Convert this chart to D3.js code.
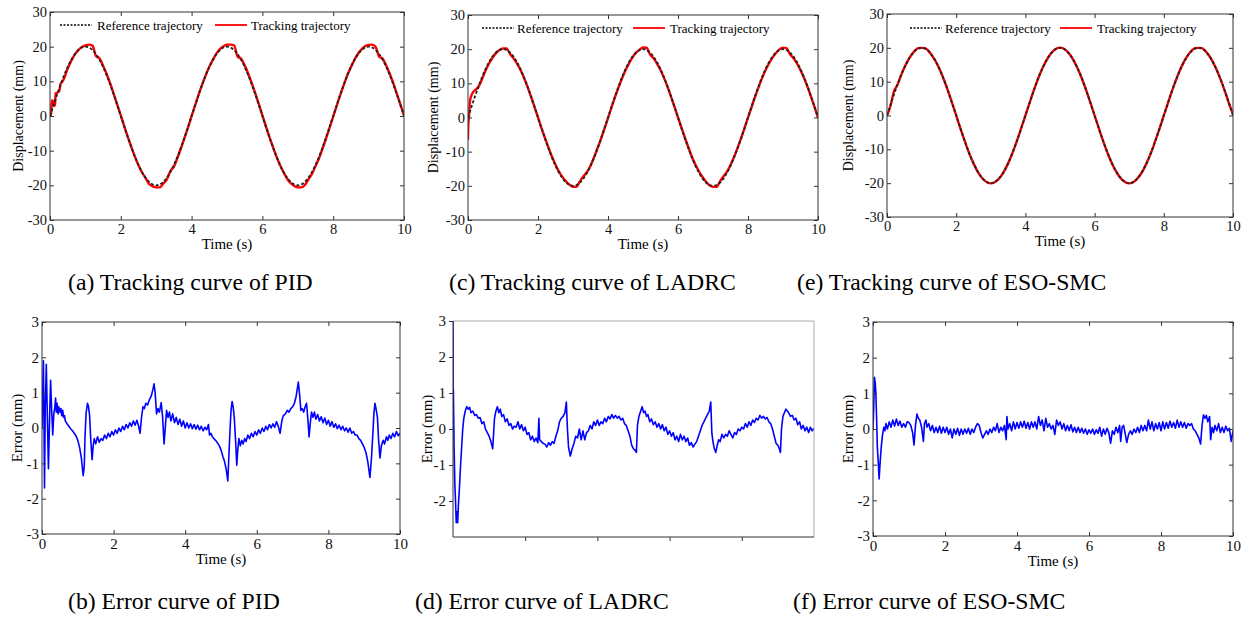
<!DOCTYPE html>
<html>
<head>
<meta charset="utf-8">
<script src="https://cdn.jsdelivr.net/npm/d3@7"></script>
<style>
  body { margin: 0; background: #fff; }
  svg { display: block; font-family: "Liberation Serif", "Times New Roman", serif; }
</style>
</head>
<body>
<svg id="chart" width="1249" height="619"></svg>
<script>
// ---- data ----
const timeTicks = [0, 2, 4, 6, 8, 10];
const dispTicks = [-30, -20, -10, 0, 10, 20, 30];
const errTicks = [-3, -2, -1, 0, 1, 2, 3];

// 0.1 s sampling grid used by the trajectory arrays
const trackTime = d3.range(0, 101).map(i => i / 10);

const refTrajectory = [
  0, 3.13, 6.18, 9.08, 11.76, 14.14, 16.18, 17.82, 19.02, 19.75, 20, 19.75, 19.02, 17.82, 16.18, 14.14, 11.76, 9.08, 6.18, 3.13,
  0, -3.13, -6.18, -9.08, -11.76, -14.14, -16.18, -17.82, -19.02, -19.75, -20, -19.75, -19.02, -17.82, -16.18, -14.14, -11.76, -9.08, -6.18, -3.13,
  0, 3.13, 6.18, 9.08, 11.76, 14.14, 16.18, 17.82, 19.02, 19.75, 20, 19.75, 19.02, 17.82, 16.18, 14.14, 11.76, 9.08, 6.18, 3.13,
  0, -3.13, -6.18, -9.08, -11.76, -14.14, -16.18, -17.82, -19.02, -19.75, -20, -19.75, -19.02, -17.82, -16.18, -14.14, -11.76, -9.08, -6.18, -3.13,
  0, 3.13, 6.18, 9.08, 11.76, 14.14, 16.18, 17.82, 19.02, 19.75, 20, 19.75, 19.02, 17.82, 16.18, 14.14, 11.76, 9.08, 6.18, 3.13,
  0
];

const pidTrack = [
  0, 3.0, 6.6, 9.2, 10.9, 13.7, 15.9, 17.7, 19.0, 19.9, 20.4, 20.6, 20.3, 17.3, 16.6, 14.5, 12.1, 9.4, 6.4, 3.3,
  0.15, -3.0, -6.1, -9.0, -11.8, -14.2, -16.3, -17.9, -19.6, -20.3, -20.6, -20.6, -19.5, -18.3, -15.9, -14.6, -12.1, -9.3, -6.3, -3.25,
  -0.05, 3.1, 6.2, 9.1, 11.8, 14.2, 16.2, 18.0, 19.3, 20.1, 20.6, 20.6, 20.4, 17.1, 16.5, 14.6, 12.2, 9.4, 6.5, 3.4,
  0.2, -3.0, -6.1, -9.0, -11.8, -14.2, -16.3, -18.1, -19.4, -20.2, -20.6, -20.6, -19.9, -18.3, -16.7, -14.5, -12.2, -9.4, -6.4, -3.3,
  -0.2, 3.0, 6.1, 9.0, 11.8, 14.1, 16.2, 17.95, 19.2, 20.1, 20.5, 20.6, 19.9, 17.1, 16.5, 14.5, 12.1, 9.4, 6.4, 3.3,
  0.15
];
const pidTrackStart = [[0, 0], [0.03, 0.4], [0.05, 4.5], [0.09, 4.4], [0.11, 2.9], [0.14, 3.2], [0.16, 6.5], [0.2, 6.7], [0.26, 7.1], [0.3, 9.3], [0.35, 9.9], [0.4, 10.9]];

const ladrcTrack = [
  -6.5, 6.5, 8.0, 9.0, 11.2, 13.7, 15.8, 17.5, 18.85, 19.75, 20.2, 20.2, 18.6, 17.3, 15.8, 13.9, 11.6, 9.0, 6.1, 3.1,
  0.0, -3.1, -6.0, -8.8, -11.5, -13.8, -15.8, -17.45, -18.7, -19.65, -20.3, -20.3, -18.6, -17.2, -15.95, -14.1, -11.7, -9.0, -6.25, -3.25,
  -0.2, 2.95, 5.95, 8.75, 11.4, 13.8, 15.85, 17.6, 18.95, 19.8, 20.5, 20.4, 18.5, 17.3, 15.8, 13.9, 11.6, 9.0, 6.1, 3.1,
  0.05, -3.0, -6.0, -8.85, -11.55, -13.85, -15.8, -17.4, -18.8, -19.85, -20.3, -20.3, -18.7, -17.2, -15.85, -13.9, -11.55, -8.95, -6.1, -3.1,
  -0.05, 3.0, 6.0, 8.8, 11.45, 13.8, 15.8, 17.5, 18.9, 19.95, 20.45, 20.3, 18.5, 17.35, 15.8, 13.85, 11.6, 9.0, 6.1, 3.1,
  0.0
];
const ladrcTrackStart = [[0, -6.5], [0.01, -2], [0.03, 0.5], [0.06, 5.0], [0.1, 6.5], [0.15, 7.5], [0.2, 8.0], [0.3, 9.0]];

const esoTrack = [
  0, 2.8, 7.1, 9.0, 11.7, 14.1, 16.15, 17.8, 19.1, 19.9, 20, 19.9, 19.1, 17.7, 16.1, 14.1, 11.75, 9.08, 6.18, 3.13,
  0, -3.13, -6.2, -9.1, -11.8, -14.15, -16.2, -17.85, -19.05, -19.8, -20.05, -19.8, -19.05, -17.85, -16.2, -14.15, -11.75, -9.05, -6.15, -3.1,
  0, 3.1, 6.15, 9.05, 11.75, 14.1, 16.15, 17.8, 19.0, 19.8, 20.05, 19.8, 19.05, 17.8, 16.15, 14.1, 11.75, 9.1, 6.2, 3.15,
  0, -3.1, -6.15, -9.05, -11.75, -14.1, -16.15, -17.8, -19.05, -19.8, -20.05, -19.8, -19.0, -17.8, -16.2, -14.15, -11.8, -9.1, -6.2, -3.15,
  0, 3.1, 6.15, 9.05, 11.75, 14.15, 16.2, 17.85, 19.1, 19.9, 20, 19.9, 19.1, 17.8, 16.15, 14.1, 11.7, 9.05, 6.15, 3.1,
  0.5
];
const esoTrackStart = [[0, 0], [0.05, 1.2], [0.1, 2.8], [0.2, 7.1]];

// tracking error [time (s), error (mm)]
const pidError = [
  [0, 0], [0.02, 1.0], [0.04, 1.9], [0.055, 0.2], [0.07, -1.7], [0.09, 0.5], [0.12, 1.8], [0.15, 0.3], [0.18, -1.15], [0.21, 0.2],
  [0.24, 1.35], [0.27, 0.5], [0.3, -0.2], [0.33, 0.4], [0.36, 0.6], [0.38, 0.85], [0.4, 0.45], [0.42, 0.7], [0.45, 0.4], [0.47, 0.6],
  [0.5, 0.45], [0.53, 0.55], [0.55, 0.35], [0.58, 0.5], [0.6, 0.3], [0.63, 0.35], [0.65, 0.2], [0.7, 0.12], [0.75, 0.05], [0.8, -0.02],
  [0.85, -0.08], [0.9, -0.15], [0.95, -0.22], [1.0, -0.35], [1.05, -0.55], [1.1, -0.85], [1.15, -1.35], [1.18, -1.1], [1.2, -0.3], [1.23, 0.4],
  [1.27, 0.7], [1.3, 0.6], [1.33, 0.35], [1.36, -0.3], [1.4, -0.9], [1.43, -0.5], [1.46, -0.3], [1.5, -0.45], [1.55, -0.25], [1.6, -0.4],
  [1.65, -0.3], [1.7, -0.35], [1.75, -0.2], [1.8, -0.3], [1.85, -0.15], [1.9, -0.25], [1.95, -0.1], [2.0, -0.2], [2.05, -0.05], [2.1, -0.15],
  [2.15, 0.0], [2.2, -0.1], [2.25, 0.05], [2.3, -0.05], [2.35, 0.1], [2.4, 0.0], [2.45, 0.15], [2.5, 0.05], [2.55, 0.2], [2.6, 0.08],
  [2.65, 0.22], [2.7, 0.05], [2.74, -0.15], [2.78, 0.3], [2.82, 0.6], [2.86, 0.55], [2.9, 0.7], [2.95, 0.65], [3.0, 0.8], [3.05, 0.9],
  [3.1, 1.1], [3.13, 1.25], [3.16, 1.0], [3.2, 0.4], [3.24, 0.55], [3.28, 0.45], [3.33, 0.72], [3.37, 0.3], [3.41, -0.45], [3.45, 0.1],
  [3.48, 0.5], [3.52, 0.3], [3.56, 0.45], [3.6, 0.2], [3.65, 0.4], [3.7, 0.15], [3.75, 0.3], [3.8, 0.1], [3.85, 0.25], [3.9, 0.05],
  [3.95, 0.2], [4.0, 0.0], [4.05, 0.15], [4.1, 0.0], [4.15, 0.12], [4.2, -0.02], [4.25, 0.1], [4.3, -0.03], [4.35, 0.08], [4.4, -0.05],
  [4.45, 0.05], [4.5, -0.08], [4.55, 0.02], [4.6, -0.05], [4.65, 0.1], [4.68, -0.2], [4.72, -0.15], [4.76, -0.25], [4.8, -0.3], [4.85, -0.35],
  [4.9, -0.42], [4.95, -0.5], [5.0, -0.62], [5.05, -0.8], [5.1, -0.95], [5.15, -1.2], [5.19, -1.5], [5.22, -0.8], [5.25, -0.1], [5.28, 0.5],
  [5.31, 0.75], [5.34, 0.6], [5.37, 0.3], [5.41, -0.4], [5.44, -1.05], [5.47, -0.6], [5.5, -0.3], [5.54, -0.5], [5.58, -0.35], [5.62, -0.45],
  [5.66, -0.3], [5.7, -0.38], [5.75, -0.2], [5.8, -0.3], [5.85, -0.15], [5.9, -0.25], [5.95, -0.1], [6.0, -0.2], [6.05, -0.05], [6.1, -0.15],
  [6.15, 0.0], [6.2, -0.1], [6.25, 0.05], [6.3, -0.05], [6.35, 0.1], [6.4, 0.0], [6.45, 0.12], [6.5, 0.02], [6.55, 0.18], [6.6, 0.05],
  [6.65, -0.15], [6.7, 0.2], [6.74, 0.35], [6.8, 0.4], [6.85, 0.5], [6.9, 0.45], [6.95, 0.55], [7.0, 0.6], [7.05, 0.7], [7.1, 0.9],
  [7.16, 1.3], [7.2, 0.9], [7.23, 0.5], [7.27, 0.55], [7.31, 0.45], [7.35, 0.6], [7.39, 0.7], [7.43, 0.2], [7.46, -0.25], [7.5, 0.2],
  [7.53, 0.45], [7.57, 0.3], [7.61, 0.45], [7.65, 0.25], [7.7, 0.38], [7.75, 0.2], [7.8, 0.32], [7.85, 0.15], [7.9, 0.28], [7.95, 0.1],
  [8.0, 0.22], [8.05, 0.05], [8.1, 0.18], [8.15, 0.02], [8.2, 0.12], [8.25, -0.02], [8.3, 0.08], [8.35, -0.05], [8.4, 0.05], [8.45, -0.08],
  [8.5, 0.0], [8.55, -0.12], [8.6, 0.0], [8.65, -0.15], [8.7, -0.1], [8.75, -0.2], [8.8, -0.2], [8.85, -0.3], [8.9, -0.35], [8.95, -0.45],
  [9.0, -0.55], [9.05, -0.7], [9.1, -0.95], [9.16, -1.4], [9.2, -0.9], [9.24, -0.2], [9.27, 0.4], [9.3, 0.7], [9.33, 0.55], [9.37, 0.3],
  [9.4, -0.3], [9.44, -0.85], [9.48, -0.5], [9.53, -0.35], [9.57, -0.45], [9.62, -0.25], [9.66, -0.35], [9.7, -0.2], [9.75, -0.3], [9.8, -0.15],
  [9.85, -0.25], [9.9, -0.1], [9.95, -0.22], [10.0, -0.15]
];

const ladrcError = [
  [0, 3.0], [0.005, 0.6], [0.01, 1.1], [0.02, 0.3], [0.03, -0.5], [0.05, -1.5], [0.07, -2.0], [0.09, -2.6], [0.11, -2.3], [0.13, -2.6],
  [0.15, -2.1], [0.18, -1.6], [0.21, -1.0], [0.24, -0.5], [0.27, 0.0], [0.3, 0.3], [0.34, 0.5], [0.38, 0.62], [0.42, 0.55], [0.46, 0.6],
  [0.5, 0.45], [0.55, 0.5], [0.6, 0.38], [0.65, 0.4], [0.7, 0.3], [0.75, 0.32], [0.8, 0.15], [0.85, 0.2], [0.9, 0.0], [0.95, -0.1],
  [1.0, -0.2], [1.05, -0.35], [1.1, -0.55], [1.12, -0.2], [1.15, 0.3], [1.19, 0.5], [1.23, 0.62], [1.27, 0.45], [1.31, 0.55], [1.35, 0.35],
  [1.4, 0.4], [1.45, 0.2], [1.5, 0.28], [1.55, 0.1], [1.6, 0.15], [1.65, 0.0], [1.7, 0.08], [1.75, 0.05], [1.8, 0.2], [1.85, 0.0],
  [1.9, 0.12], [1.95, -0.05], [2.0, 0.05], [2.05, -0.15], [2.1, -0.1], [2.15, -0.3], [2.2, -0.2], [2.25, -0.35], [2.3, -0.25], [2.35, -0.38],
  [2.38, 0.3], [2.4, -0.3], [2.45, -0.35], [2.5, -0.4], [2.55, -0.42], [2.6, -0.5], [2.65, -0.38], [2.7, -0.45], [2.75, -0.35], [2.8, -0.4],
  [2.85, -0.2], [2.9, -0.05], [2.95, 0.2], [3.0, 0.3], [3.05, 0.35], [3.1, 0.45], [3.14, 0.75], [3.17, 0.0], [3.2, -0.5], [3.25, -0.75],
  [3.3, -0.55], [3.35, -0.4], [3.4, -0.2], [3.45, -0.25], [3.5, 0.0], [3.55, -0.3], [3.6, -0.05], [3.65, -0.3], [3.7, -0.1], [3.75, -0.05],
  [3.8, 0.1], [3.85, 0.0], [3.9, 0.2], [3.95, 0.1], [4.0, 0.25], [4.05, 0.1], [4.1, 0.2], [4.15, 0.15], [4.2, 0.3], [4.25, 0.2],
  [4.3, 0.35], [4.35, 0.28], [4.4, 0.4], [4.45, 0.3], [4.5, 0.38], [4.55, 0.3], [4.6, 0.35], [4.65, 0.25], [4.7, 0.3], [4.75, 0.15],
  [4.8, 0.1], [4.85, -0.05], [4.9, -0.2], [4.95, -0.45], [5.0, -0.55], [5.05, -0.6], [5.08, -0.65], [5.11, 0.1], [5.15, 0.35], [5.2, 0.5],
  [5.24, 0.62], [5.28, 0.45], [5.32, 0.5], [5.36, 0.35], [5.4, 0.4], [5.45, 0.2], [5.5, 0.28], [5.55, 0.12], [5.6, 0.2], [5.65, 0.05],
  [5.7, 0.15], [5.75, 0.0], [5.8, 0.12], [5.85, -0.05], [5.9, 0.05], [5.95, -0.15], [6.0, -0.05], [6.05, -0.2], [6.1, -0.1], [6.15, -0.3],
  [6.2, -0.2], [6.25, -0.35], [6.3, -0.15], [6.35, -0.3], [6.4, -0.2], [6.45, -0.35], [6.5, -0.25], [6.55, -0.45], [6.6, -0.38], [6.65, -0.5],
  [6.7, -0.42], [6.75, -0.35], [6.8, -0.2], [6.85, -0.05], [6.9, 0.1], [6.95, 0.2], [7.0, 0.3], [7.05, 0.4], [7.1, 0.5], [7.14, 0.75],
  [7.17, -0.1], [7.2, -0.35], [7.24, -0.55], [7.28, -0.65], [7.32, -0.45], [7.36, -0.3], [7.4, -0.35], [7.45, -0.15], [7.5, -0.25], [7.55, -0.15],
  [7.6, -0.2], [7.65, -0.05], [7.7, -0.15], [7.75, -0.25], [7.8, -0.1], [7.85, -0.15], [7.9, 0.0], [7.95, -0.05], [8.0, 0.05], [8.05, 0.0],
  [8.1, 0.15], [8.15, 0.05], [8.2, 0.2], [8.25, 0.1], [8.3, 0.25], [8.35, 0.18], [8.4, 0.3], [8.45, 0.25], [8.5, 0.38], [8.55, 0.3],
  [8.6, 0.35], [8.65, 0.28], [8.7, 0.32], [8.75, 0.2], [8.8, 0.15], [8.85, 0.0], [8.9, -0.2], [8.95, -0.4], [9.0, -0.45], [9.04, -0.55],
  [9.07, -0.65], [9.1, 0.0], [9.14, 0.35], [9.18, 0.45], [9.22, 0.55], [9.26, 0.5], [9.3, 0.45], [9.35, 0.35], [9.4, 0.38], [9.45, 0.25],
  [9.5, 0.3], [9.55, 0.12], [9.6, 0.2], [9.65, 0.0], [9.7, 0.1], [9.75, -0.05], [9.8, 0.05], [9.85, -0.1], [9.9, 0.05], [9.95, -0.05],
  [10.0, 0.02]
];

const esoError = [
  [0, 0.0], [0.02, 0.6], [0.04, 1.45], [0.06, 1.3], [0.08, 1.0], [0.1, 0.3], [0.12, -0.5], [0.15, -1.0], [0.17, -1.4], [0.2, -0.9],
  [0.23, -0.5], [0.26, -0.2], [0.3, 0.05], [0.33, -0.05], [0.36, 0.15], [0.4, 0.0], [0.45, 0.2], [0.5, 0.05], [0.55, 0.25], [0.6, 0.08],
  [0.65, 0.28], [0.7, 0.1], [0.75, 0.22], [0.8, 0.05], [0.85, 0.15], [0.9, 0.05], [0.95, 0.2], [1.0, 0.18], [1.05, 0.1], [1.1, -0.1],
  [1.14, -0.45], [1.18, 0.1], [1.22, 0.42], [1.26, 0.3], [1.3, 0.25], [1.35, 0.05], [1.4, -0.35], [1.43, 0.15], [1.47, 0.25], [1.5, 0.05],
  [1.55, 0.15], [1.6, -0.05], [1.65, 0.1], [1.7, -0.1], [1.75, 0.05], [1.8, -0.1], [1.85, 0.08], [1.9, -0.12], [1.95, 0.05], [2.0, -0.1],
  [2.05, 0.05], [2.1, -0.15], [2.15, 0.0], [2.2, -0.25], [2.25, 0.0], [2.3, -0.15], [2.35, 0.02], [2.4, -0.18], [2.45, 0.0], [2.5, -0.15],
  [2.55, 0.0], [2.6, -0.12], [2.65, 0.02], [2.7, -0.15], [2.75, 0.0], [2.8, -0.1], [2.85, 0.05], [2.9, 0.15], [2.95, 0.1], [3.0, -0.1],
  [3.05, -0.25], [3.1, -0.15], [3.15, -0.05], [3.2, -0.15], [3.25, 0.0], [3.3, -0.1], [3.35, 0.05], [3.4, -0.05], [3.45, 0.15], [3.5, -0.1],
  [3.55, 0.05], [3.6, -0.05], [3.65, 0.1], [3.7, -0.3], [3.72, 0.35], [3.75, 0.0], [3.8, 0.15], [3.85, -0.05], [3.9, 0.2], [3.95, 0.0],
  [4.0, 0.18], [4.05, 0.02], [4.1, 0.2], [4.15, 0.05], [4.2, 0.22], [4.25, 0.02], [4.3, 0.18], [4.35, 0.0], [4.4, 0.2], [4.45, 0.05],
  [4.5, 0.2], [4.55, 0.0], [4.6, 0.35], [4.65, 0.1], [4.7, 0.25], [4.75, -0.05], [4.8, 0.3], [4.85, 0.05], [4.9, 0.15], [4.95, 0.0],
  [5.0, 0.1], [5.05, -0.15], [5.1, 0.25], [5.15, 0.1], [5.2, 0.2], [5.25, 0.0], [5.3, 0.15], [5.35, -0.05], [5.4, 0.1], [5.45, -0.05],
  [5.5, 0.12], [5.55, -0.08], [5.6, 0.05], [5.65, -0.1], [5.7, 0.05], [5.75, -0.1], [5.8, 0.02], [5.85, -0.12], [5.9, 0.0], [5.95, -0.15],
  [6.0, -0.02], [6.05, -0.12], [6.1, 0.0], [6.15, -0.15], [6.2, -0.02], [6.25, -0.12], [6.3, 0.05], [6.35, -0.2], [6.4, 0.0], [6.45, -0.15],
  [6.5, 0.02], [6.55, -0.1], [6.6, -0.4], [6.65, -0.05], [6.7, -0.15], [6.75, 0.05], [6.8, -0.1], [6.85, 0.1], [6.88, -0.35], [6.92, 0.05],
  [6.96, 0.1], [7.0, -0.1], [7.05, -0.38], [7.1, -0.15], [7.15, -0.05], [7.2, -0.15], [7.25, 0.0], [7.3, -0.1], [7.35, 0.05], [7.4, -0.1],
  [7.45, 0.1], [7.5, -0.05], [7.55, 0.1], [7.6, -0.05], [7.65, 0.25], [7.7, 0.0], [7.75, 0.2], [7.8, -0.05], [7.85, 0.15], [7.9, 0.0],
  [7.95, 0.18], [8.0, -0.05], [8.05, 0.2], [8.1, 0.0], [8.15, 0.18], [8.2, 0.02], [8.25, 0.22], [8.3, 0.05], [8.35, 0.18], [8.4, 0.02],
  [8.45, 0.25], [8.5, 0.05], [8.55, 0.2], [8.6, 0.05], [8.65, 0.18], [8.7, 0.02], [8.75, 0.15], [8.8, 0.1], [8.85, 0.15], [8.9, 0.0],
  [8.95, -0.05], [9.0, -0.15], [9.05, -0.25], [9.1, -0.42], [9.14, 0.1], [9.18, 0.4], [9.22, 0.3], [9.26, 0.38], [9.3, 0.2], [9.35, 0.35],
  [9.38, -0.3], [9.42, 0.05], [9.46, -0.1], [9.5, 0.1], [9.55, -0.05], [9.6, 0.15], [9.65, -0.1], [9.7, 0.05], [9.75, -0.1], [9.8, 0.08],
  [9.85, -0.05], [9.9, 0.02], [9.95, -0.35], [10.0, -0.05]
];

// ---- layout ----
const svg = d3.select('#chart');
const FONT = '"Liberation Serif", "Times New Roman", serif';

const trackPanels = [
  { id: 'a', box: [50, 12, 404, 220], track: pidTrack, start: pidTrackStart, legend: [60, 25, 97, 215, 251],
    yLabelX: 18, caption: '(a) Tracking curve of PID', capX: 68, capY: 290 },
  { id: 'c', box: [468, 15, 818, 220], track: ladrcTrack, start: ladrcTrackStart, legend: [482, 28, 517, 633, 670],
    yLabelX: 433, caption: '(c) Tracking curve of LADRC', capX: 449, capY: 290 },
  { id: 'e', box: [887, 14, 1233, 217], track: esoTrack, start: esoTrackStart, legend: [910, 28, 945, 1060, 1097],
    yLabelX: 848, caption: '(e) Tracking curve of ESO-SMC', capX: 797, capY: 290 }
];

const errorPanels = [
  { id: 'b', box: [42, 322, 400, 534], err: pidError, yLabelX: 17, caption: '(b) Error curve of PID', capX: 68, capY: 609 },
  { id: 'd', box: [453, 321, 814, 537], err: ladrcError, yLabelX: 427, caption: '(d) Error curve of LADRC', capX: 415, capY: 609, plain: true },
  { id: 'f', box: [873, 322, 1233, 536], err: esoError, yLabelX: 848, caption: '(f) Error curve of ESO-SMC', capX: 793, capY: 609 }
];

function styleAxis(g, size) {
  g.attr('font-family', FONT).attr('font-size', size);
  g.selectAll('.tick line').attr('stroke', '#333');
  g.selectAll('.tick text').attr('fill', '#111');
  g.select('.domain').remove();
}

function frame(g, x, y, ticksY, opts) {
  const [x0, x1] = x.range();
  const [y1, y0] = y.range();
  const fmt = d => String(d);
  const fs = opts.fontSize;

  if (opts.plain) {
    // outward ticks on left and bottom only, light box on top/right
    g.append('line').attr('x1', x0).attr('x2', x1).attr('y1', y0).attr('y2', y0).attr('stroke', '#aaa');
    g.append('line').attr('x1', x1).attr('x2', x1).attr('y1', y0).attr('y2', y1).attr('stroke', '#aaa');
    g.append('line').attr('x1', x0).attr('x2', x0).attr('y1', y0).attr('y2', y1).attr('stroke', '#333');
    g.append('line').attr('x1', x0).attr('x2', x1).attr('y1', y1).attr('y2', y1).attr('stroke', '#333');
    g.append('g').attr('transform', `translate(${x0},0)`)
      .call(d3.axisLeft(y).tickValues(ticksY.filter(d => d > -3)).tickSize(4).tickPadding(3).tickFormat(fmt))
      .call(s => styleAxis(s, fs));
    g.append('g').attr('transform', `translate(0,${y1})`)
      .call(d3.axisBottom(x).tickValues([2, 4, 6, 8]).tickSize(4).tickFormat(''))
      .call(s => styleAxis(s, fs));
    return;
  }

  g.append('rect').attr('x', x0).attr('y', y0).attr('width', x1 - x0).attr('height', y1 - y0)
    .attr('fill', 'none').attr('stroke', '#333').attr('stroke-width', 1);

  g.append('g').attr('transform', `translate(${x0},0)`)
    .call(d3.axisLeft(y).tickValues(ticksY).tickSize(-4).tickPadding(3).tickFormat(fmt))
    .call(s => styleAxis(s, fs));
  g.append('g').attr('transform', `translate(${x1},0)`)
    .call(d3.axisRight(y).tickValues(ticksY).tickSize(-4).tickFormat(''))
    .call(s => styleAxis(s, fs));
  g.append('g').attr('transform', `translate(0,${y1})`)
    .call(d3.axisBottom(x).tickValues(timeTicks).tickSize(-4).tickPadding(4).tickFormat(fmt))
    .call(s => styleAxis(s, fs));
  g.append('g').attr('transform', `translate(0,${y0})`)
    .call(d3.axisTop(x).tickValues(timeTicks).tickSize(-4).tickFormat(''))
    .call(s => styleAxis(s, fs));

  g.append('text').attr('x', (x0 + x1) / 2).attr('y', y1 + opts.timeDy)
    .attr('text-anchor', 'middle').attr('font-family', FONT).attr('font-size', 15)
    .text('Time (s)');
}

function clip(g, id, x, y) {
  const [x0, x1] = x.range();
  const [y1, y0] = y.range();
  g.append('clipPath').attr('id', 'clip-' + id).append('rect')
    .attr('x', x0).attr('y', y0).attr('width', x1 - x0).attr('height', y1 - y0);
  return g.append('g').attr('clip-path', `url(#clip-${id})`);
}

function yLabel(g, text, x, y, size) {
  g.append('text').attr('transform', `translate(${x},${y}) rotate(-90)`)
    .attr('text-anchor', 'middle').attr('dy', '0.35em')
    .attr('font-family', FONT).attr('font-size', size).text(text);
}

function caption(p) {
  svg.append('text').attr('x', p.capX).attr('y', p.capY)
    .attr('font-family', FONT).attr('font-size', 23.7).attr('fill', '#000').text(p.caption);
}

trackPanels.forEach(p => {
  const [x0, y0, x1, y1] = p.box;
  const x = d3.scaleLinear().domain([0, 10]).range([x0, x1]);
  const y = d3.scaleLinear().domain([-30, 30]).range([y1, y0]);
  const g = svg.append('g');

  const lastStart = p.start[p.start.length - 1][0];
  const trackData = p.start.concat(trackTime.map((t, i) => [t, p.track[i]]).filter(d => d[0] > lastStart + 1e-9));
  const refData = trackTime.map((t, i) => [t, refTrajectory[i]]);

  const lineTrack = d3.line().x(d => x(d[0])).y(d => y(d[1])).curve(d3.curveMonotoneX);

  const plot = clip(g, p.id, x, y);
  plot.append('path').datum(trackData).attr('d', lineTrack)
    .attr('fill', 'none').attr('stroke', '#ff0000').attr('stroke-width', 2.4);
  plot.append('path').datum(refData).attr('d', lineTrack)
    .attr('fill', 'none').attr('stroke', '#222').attr('stroke-width', 1.8).attr('stroke-dasharray', '3,2');

  frame(g, x, y, dispTicks, { fontSize: 14.5, timeDy: 29 });
  yLabel(g, 'Displacement (mm)', p.yLabelX, (y0 + y1) / 2, 14);

  // legend
  const [lx, ly, tx, rx, rtx] = p.legend;
  g.append('line').attr('x1', lx).attr('x2', lx + 32).attr('y1', ly).attr('y2', ly)
    .attr('stroke', '#000').attr('stroke-width', 1.5).attr('stroke-dasharray', '2,1.5');
  g.append('text').attr('x', tx).attr('y', ly).attr('dy', '0.35em')
    .attr('font-family', FONT).attr('font-size', 13).text('Reference trajectory');
  g.append('line').attr('x1', rx).attr('x2', rx + 32).attr('y1', ly).attr('y2', ly)
    .attr('stroke', '#ff0000').attr('stroke-width', 1.8);
  g.append('text').attr('x', rtx).attr('y', ly).attr('dy', '0.35em')
    .attr('font-family', FONT).attr('font-size', 13).text('Tracking trajectory');

  caption(p);
});

errorPanels.forEach(p => {
  const [x0, y0, x1, y1] = p.box;
  const x = d3.scaleLinear().domain([0, 10]).range([x0, x1]);
  const y = d3.scaleLinear().domain([-3, 3]).range([y1, y0]);
  const g = svg.append('g');

  const line = d3.line().x(d => x(d[0])).y(d => y(d[1]));
  const plot = clip(g, p.id, x, y);
  plot.append('path').datum(p.err).attr('d', line)
    .attr('fill', 'none').attr('stroke', '#0000ff').attr('stroke-width', 1.6).attr('stroke-linejoin', 'round');

  frame(g, x, y, errTicks, { fontSize: 15, plain: p.plain, timeDy: 30 });
  yLabel(g, 'Error (mm)', p.yLabelX, (y0 + y1) / 2, 15);
  caption(p);
});
</script>
</body>
</html>
